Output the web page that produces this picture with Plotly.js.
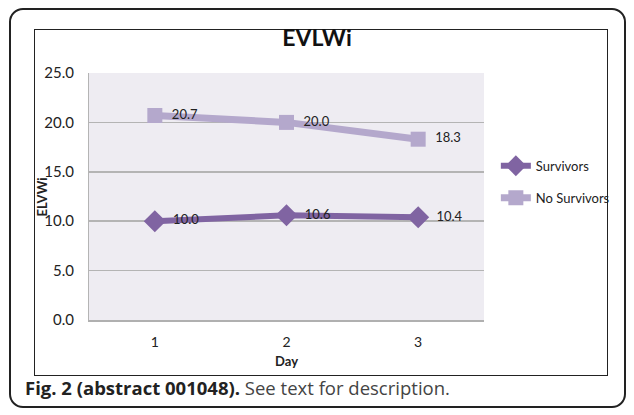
<!DOCTYPE html>
<html>
<head>
<meta charset="utf-8">
<script src="https://cdn.plot.ly/plotly-3.0.1.min.js"></script>
<style>
  html, body { margin: 0; padding: 0; background: #fff; width: 634px; height: 415px; overflow: hidden; }
  #outer { position: absolute; left: 9px; top: 8px; width: 617px; height: 400px; border: 2px solid #222; border-radius: 14px; box-sizing: border-box; }
  #inner { position: absolute; left: 34px; top: 29px; width: 574px; height: 347px; border: 1px solid #222; box-sizing: border-box; }
  #chart { position: absolute; left: 0; top: 0; width: 634px; height: 415px; }
  #caption { position: absolute; left: 25px; top: 375px; font-family: "Open Sans", sans-serif; font-size: 18.5px; color: #444; white-space: nowrap; }
  #caption b { color: #222; }
</style>
</head>
<body>
<div id="outer"></div>
<div id="inner"></div>
<div id="chart"></div>
<div id="caption"><b>Fig. 2 (abstract 001048).</b> See text for description.</div>
<script>
const days = [1, 2, 3];
const dayLabels = ["1", "2", "3"];
const survivors = [10.0, 10.6, 10.4];
const noSurvivors = [20.7, 20.0, 18.3];
const yTicks = [0, 5, 10, 15, 20, 25];

const fontFam = "Lato, 'Open Sans', sans-serif";

const traces = [
  {
    x: days, y: survivors, name: "Survivors", legendgroup: "a",
    mode: "lines+markers+text",
    text: survivors.map(v => "\u00a0\u00a0" + v.toFixed(1)),
    textposition: "middle right",
    textfont: { family: fontFam, size: 13, color: "#222" },
    line: { color: "#8064a2", width: 6 },
    marker: { symbol: "diamond", size: 17, color: "#8064a2" },
    cliponaxis: false
  },
  {
    x: days, y: noSurvivors, name: "No Survivors", legendgroup: "b",
    mode: "lines+markers+text",
    text: noSurvivors.map(v => "\u00a0\u00a0" + v.toFixed(1)),
    textposition: "middle right",
    textfont: { family: fontFam, size: 13, color: "#222" },
    line: { color: "#b4a8cc", width: 7 },
    marker: { symbol: "square", size: 15, color: "#b4a8cc" },
    cliponaxis: false
  }
];

const layout = {
  width: 634, height: 415,
  margin: { l: 89, r: 150, t: 73, b: 95, pad: 0 },
  paper_bgcolor: "rgba(0,0,0,0)",
  plot_bgcolor: "#eeecf2",
  font: { family: fontFam, size: 13, color: "#222" },
  title: { text: "<b>EVLWi</b>", font: { family: fontFam, size: 23, color: "#111" }, x: 0.5, xanchor: "center", y: 0.908, yanchor: "middle" },
  showlegend: true,
  legend: {
    x: 1.03, xanchor: "left", y: 0.685, yanchor: "top",
    font: { family: fontFam, size: 13, color: "#222" },
    bgcolor: "rgba(0,0,0,0)",
    traceorder: "grouped", tracegroupgap: 12,
    itemwidth: 30
  },
  annotations: [
    { text: "<b>ELVWi</b>", xref: "paper", yref: "paper", x: -0.119, y: 0.5, xanchor: "center", yanchor: "middle",
      textangle: -90, showarrow: false, font: { family: fontFam, size: 13, color: "#222" } }
  ],
  xaxis: {
    type: "linear", range: [0.5, 3.5],
    tickvals: days, ticktext: dayLabels,
    showgrid: false, zeroline: false,
    showline: true, linecolor: "#b0b0b0", linewidth: 2,
    ticks: "outside", ticklen: 8, tickcolor: "rgba(0,0,0,0)",
    tickfont: { family: fontFam, size: 14, color: "#222" },
    title: { text: "<b>Day</b>", font: { family: fontFam, size: 13, color: "#222" }, standoff: 8 },
    fixedrange: true
  },
  yaxis: {
    range: [0, 25], tickvals: yTicks, tickformat: ".1f",
    showgrid: true, gridcolor: "#b4b4b4", gridwidth: 1.5,
    zeroline: false,
    showline: true, linecolor: "#b4b4b4", linewidth: 1,
    ticks: "outside", ticklen: 11, tickcolor: "rgba(0,0,0,0)",
    tickfont: { family: fontFam, size: 15, color: "#222" },
    fixedrange: true
  }
};

Plotly.newPlot("chart", traces, layout, { displayModeBar: false, staticPlot: true });
</script>
</body>
</html>
